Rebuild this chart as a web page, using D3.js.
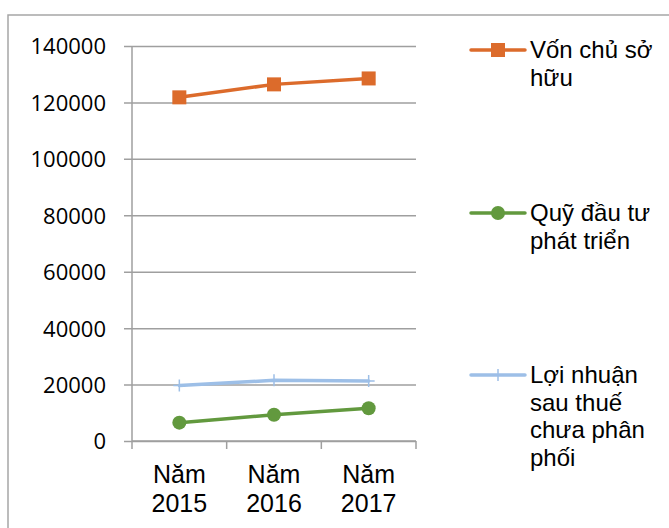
<!DOCTYPE html>
<html>
<head>
<meta charset="utf-8">
<script src="https://cdn.jsdelivr.net/npm/d3@7"></script>
<style>
  body { margin: 0; background: #fff; }
  svg { display: block; }
</style>
</head>
<body>
<div id="chart"></div>
<script>
const years = ["Năm 2015", "Năm 2016", "Năm 2017"];
const vonChuSoHuu = [121800, 126400, 128500];
const quyDauTu = [6500, 9300, 11600];
const loiNhuan = [19700, 21500, 21300];
const yTicks = [0, 20000, 40000, 60000, 80000, 100000, 120000, 140000];

const seriesNames = ["Vốn chủ sở hữu", "Quỹ đầu tư phát triển", "Lợi nhuận sau thuế chưa phân phối"];
const legendLines = [["Vốn chủ sở", "hữu"], ["Quỹ đầu tư", "phát triển"], ["Lợi nhuận", "sau thuế", "chưa phân", "phối"]];

const W = 669, H = 528;
const plot = { left: 132, right: 416, top: 46, bottom: 441 };

const svg = d3.select("#chart").append("svg")
  .attr("width", W)
  .attr("height", H);

// chart area border (runs off the right and bottom edges)
svg.append("rect")
  .attr("x", 8).attr("y", 15)
  .attr("width", 700).attr("height", 600)
  .attr("fill", "none")
  .attr("stroke", "#a6a6a6")
  .attr("stroke-width", 1.5);

const x = d3.scaleBand()
  .domain(years)
  .range([plot.left, plot.right]);

const y = d3.scaleLinear()
  .domain([0, 140000])
  .range([plot.bottom, plot.top]);

// gridlines + y axis
const yAxis = svg.append("g")
  .attr("transform", `translate(${plot.left},0)`)
  .call(d3.axisLeft(y).tickValues(yTicks).tickSize(8).tickFormat(d3.format("d")));
yAxis.select(".domain").attr("stroke", "#9f9f9f").attr("stroke-width", 1.5)
  .attr("d", `M0,${plot.top}V${plot.bottom}`);
yAxis.selectAll(".tick line").attr("stroke", "#9f9f9f").attr("stroke-width", 1.5)
  .attr("x1", -8).attr("x2", plot.right - plot.left);
yAxis.selectAll(".tick text")
  .attr("x", -26)
  .attr("dy", "0.36em")
  .attr("fill", "#000")
  .style("font-family", "'Open Sans', sans-serif")
  .style("font-size", "22px");

// x axis
const xAxis = svg.append("g")
  .attr("transform", `translate(0,${plot.bottom})`)
  .call(d3.axisBottom(x).tickSize(0).tickFormat(""));
xAxis.select(".domain").attr("stroke", "#9f9f9f").attr("stroke-width", 1.5)
  .attr("d", `M${plot.left},0H${plot.right}`);
xAxis.selectAll(".tick").remove();

svg.append("g")
  .selectAll("line")
  .data(years.concat([null]))
  .join("line")
  .attr("x1", (d, i) => i < years.length ? x(d) : x(years[years.length - 1]) + x.bandwidth())
  .attr("x2", (d, i) => i < years.length ? x(d) : x(years[years.length - 1]) + x.bandwidth())
  .attr("y1", plot.bottom)
  .attr("y2", plot.bottom + 8)
  .attr("stroke", "#9f9f9f")
  .attr("stroke-width", 1.5);

const catLabels = svg.append("g")
  .selectAll("text")
  .data(years)
  .join("text")
  .attr("x", d => x(d) + x.bandwidth() / 2)
  .attr("y", 483)
  .attr("text-anchor", "middle")
  .style("font-family", "'Liberation Sans', Arial, sans-serif")
  .style("font-size", "25px")
  .attr("fill", "#000");
catLabels.each(function (d) {
  const parts = d.split(" ");
  d3.select(this).selectAll("tspan")
    .data(parts)
    .join("tspan")
    .attr("x", x(d) + x.bandwidth() / 2)
    .attr("dy", (p, i) => i === 0 ? 0 : 29)
    .text(p => p);
});

const series = [
  { name: seriesNames[0], values: vonChuSoHuu, color: "#dc6b2b", marker: "square" },
  { name: seriesNames[1], values: quyDauTu, color: "#62993e", marker: "circle" },
  { name: seriesNames[2], values: loiNhuan, color: "#9dbfe7", marker: "plus" }
];

const line = d3.line()
  .x((d, i) => x(years[i]) + x.bandwidth() / 2)
  .y(d => y(d));

function drawMarker(g, type, color, cx, cy) {
  if (type === "square") {
    g.append("rect")
      .attr("x", cx - 7).attr("y", cy - 7)
      .attr("width", 14).attr("height", 14)
      .attr("fill", color);
  } else if (type === "circle") {
    g.append("circle")
      .attr("cx", cx).attr("cy", cy).attr("r", 7)
      .attr("fill", color);
  } else {
    g.append("path")
      .attr("d", `M${cx - 6},${cy}H${cx + 6}M${cx},${cy - 6}V${cy + 6}`)
      .attr("stroke", color)
      .attr("stroke-width", 1.5);
  }
}

series.forEach(s => {
  const g = svg.append("g");
  g.append("path")
    .datum(s.values)
    .attr("d", line)
    .attr("fill", "none")
    .attr("stroke", s.color)
    .attr("stroke-width", 3.5)
    .attr("stroke-linecap", "round");
  s.values.forEach((v, i) => {
    drawMarker(g, s.marker, s.color, x(years[i]) + x.bandwidth() / 2, y(v));
  });
});

// legend
const legendY = [50, 213, 375];
series.forEach((s, k) => {
  const g = svg.append("g");
  g.append("line")
    .attr("x1", 471).attr("x2", 525)
    .attr("y1", legendY[k]).attr("y2", legendY[k])
    .attr("stroke", s.color)
    .attr("stroke-width", 3.5)
    .attr("stroke-linecap", "round");
  drawMarker(g, s.marker, s.color, 498, legendY[k]);
  g.append("text")
    .attr("x", 530)
    .attr("y", legendY[k] + 8)
    .style("font-family", "'Liberation Sans', Arial, sans-serif")
    .style("font-size", "24px")
    .attr("fill", "#000")
    .selectAll("tspan")
    .data(legendLines[k])
    .join("tspan")
    .attr("x", 530)
    .attr("dy", (p, i) => i === 0 ? 0 : 27.5)
    .text(p => p);
});
</script>
</body>
</html>
